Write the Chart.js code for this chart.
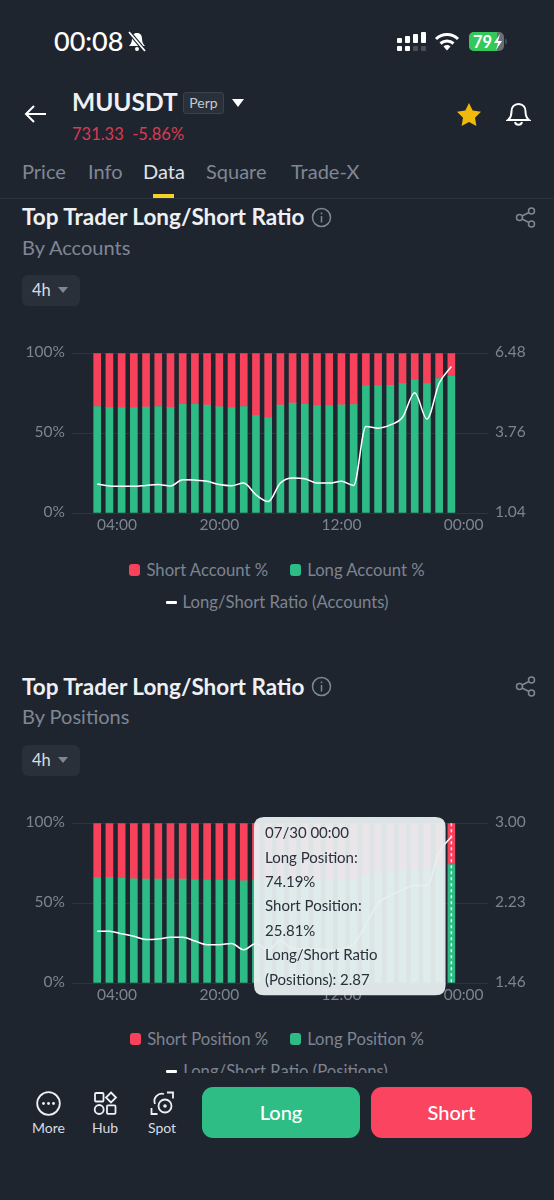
<!DOCTYPE html>
<html>
<head>
<meta charset="utf-8">
<title>MUUSDT Top Trader Long/Short Ratio</title>
<script src="https://cdn.jsdelivr.net/npm/chart.js@4"></script>
<style>
  html, body { margin: 0; padding: 0; background: #1f252f; }
  body { width: 554px; height: 1200px; position: relative; overflow: hidden; font-family: Lato, sans-serif; color: #fff; }
  .abs { position: absolute; white-space: nowrap; line-height: 1; }
  canvas { position: absolute; left: 0; }
  .tab { font-size: 20px; color: #7f8794; top: 161px; }
  .title { font-size: 22.5px; font-weight: 700; color: #eef0f3; left: 22px; }
  .sub { font-size: 20px; color: #7f8794; left: 22px; }
  .btn4h { left: 22px; width: 58px; height: 31px; background: #2a303a; border-radius: 6px; }
  .btn4h span { position: absolute; left: 10px; top: 7px; font-size: 16.5px; color: #d8dce2; }
  .btn4h i { position: absolute; left: 36px; top: 12px; width: 0; height: 0; border-left: 5.5px solid transparent; border-right: 5.5px solid transparent; border-top: 6px solid #7f8794; }
  .legend-row { position: absolute; left: 0; width: 554px; display: flex; justify-content: center; align-items: center; height: 20px; font-size: 16.7px; color: #7d8490; white-space: nowrap; }
  .legend-row div { display: flex; align-items: center; }
  .legend-row div + div { margin-left: 22px; }
  .legend-row b { display: block; width: 11px; height: 12px; border-radius: 3px; margin-right: 6px; }
  .legend-row b.dash { height: 3px; border-radius: 1px; }
  #nav { position: absolute; left: 0; top: 1073px; width: 554px; height: 127px; background: #1f252f; }
  .navlabel { font-size: 14px; color: #d8dce2; top: 1121px; transform: translateX(-50%); }
  .cta { top: 1087px; height: 51px; border-radius: 11px; color: #fff; font-size: 20px; font-weight: 500; text-align: center; line-height: 51px; }
</style>
</head>
<body>

<!-- status bar -->
<div class="abs" style="left:54px;top:27px;font-size:27px;font-weight:500;">00:08</div>
<svg class="abs" style="left:127px;top:31px" width="20" height="22" viewBox="0 0 20 22"><path d="M10 2c-3.500 0-5 2.700-5 5.500 0 3.500-1 5.500-3 7.500h16c-2-2-3-4-3-7.500C15 4.700 13.500 2 10 2z" fill="#fff"/><circle cx="10" cy="18" r="2" fill="#fff"/><path d="M2 1l16 19" stroke="#1f252f" stroke-width="4"/><path d="M2 1l16 19" stroke="#fff" stroke-width="1.800"/></svg>
<svg class="abs" style="left:397px;top:31px" width="30" height="21" viewBox="0 0 30 21"><g fill="#fff"><rect x="0" y="7" width="5" height="5" rx="1"/><rect x="0" y="15" width="5" height="5" rx="1"/><rect x="8" y="5" width="5" height="7" rx="1"/><rect x="8" y="15" width="5" height="5" rx="1"/><rect x="16" y="3" width="5" height="9" rx="1"/><rect x="24" y="1" width="5" height="11" rx="1"/></g><g fill="#4a4f58"><rect x="16" y="15" width="5" height="5" rx="1"/><rect x="24" y="15" width="5" height="5" rx="1"/></g></svg>
<svg class="abs" style="left:434px;top:32px" width="26" height="20" viewBox="0 0 26 20"><g fill="none" stroke="#fff" stroke-width="3"><path d="M2 7a16 16 0 0 1 22 0"/><path d="M6.500 11.500a10 10 0 0 1 13 0"/></g><path d="M9.500 14.500a5.500 5.500 0 0 1 7 0L13 18.500z" fill="#fff"/></svg>
<svg class="abs" style="left:469px;top:32px" width="38" height="19" viewBox="0 0 38 19"><rect x="0" y="0" width="35" height="19" rx="5" fill="#6b6e74"/><path d="M5 0h23v19H5a5 5 0 0 1-5-5V5a5 5 0 0 1 5-5z" fill="#34c759"/><path d="M36 6.500v6a3 3 0 0 0 2-3 3 3 0 0 0-2-3z" fill="#4a4f58"/><text x="4" y="15.500" font-family="Lato" font-size="16.500" font-weight="700" fill="#fff">79</text><path d="M31 2l-6 9h4l-2 7 6-9h-4z" fill="#fff"/></svg>

<!-- symbol header -->
<svg class="abs" style="left:24px;top:104px" width="23" height="20" viewBox="0 0 23 20"><path d="M22 10H2M10 2l-8 8 8 8" fill="none" stroke="#fff" stroke-width="2"/></svg>
<div class="abs" style="left:72px;top:90px;font-size:24.500px;font-weight:700;color:#eef0f3;">MUUSDT</div>
<div class="abs" style="left:183px;top:92px;width:41px;height:22px;background:#2a303a;border:1px solid #3a414c;border-radius:3px;box-sizing:border-box;font-size:14px;color:#c4c9d1;text-align:center;line-height:20px;">Perp</div>
<div class="abs" style="left:232px;top:99px;width:0;height:0;border-left:6.500px solid transparent;border-right:6.500px solid transparent;border-top:8px solid #fff;"></div>
<div class="abs" style="left:72px;top:126px;font-size:16.500px;color:#d83b53;">731.33&nbsp; -5.86%</div>
<svg class="abs" style="left:456px;top:102px" width="26" height="25" viewBox="0 0 26 25"><path d="M13 1l3.700 7.600 8.300 1.200-6 5.900 1.400 8.300L13 20.100l-7.400 3.900L7 15.700 1 9.800l8.300-1.200z" fill="#f0b90b"/></svg>
<svg class="abs" style="left:506px;top:102px" width="25" height="25" viewBox="0 0 25 25"><path d="M12.500 2c-4.500 0-7 3.300-7 7.500 0 4.200-1 6.500-3.500 8.500h21c-2.500-2-3.500-4.300-3.500-8.500 0-4.200-2.500-7.500-7-7.500zM9 20a3.600 3.600 0 0 0 7 0" fill="none" stroke="#fff" stroke-width="2"/></svg>

<!-- tabs -->
<div class="abs tab" style="left:22px">Price</div>
<div class="abs tab" style="left:88px">Info</div>
<div class="abs tab" style="left:143px;color:#dfe2e7">Data</div>
<div class="abs tab" style="left:206px">Square</div>
<div class="abs tab" style="left:291px">Trade-X</div>
<div class="abs" style="left:153px;top:194px;width:21px;height:4px;background:#f5cf2a;"></div>
<div class="abs" style="left:0;top:198px;width:554px;height:1px;background:#2c323c;"></div>

<!-- section 1 -->
<div class="abs title" style="top:206px">Top Trader Long/Short Ratio</div>
<svg class="abs" style="left:311px;top:207px" width="21" height="21" viewBox="0 0 21 21"><circle cx="10.500" cy="10.500" r="9" fill="none" stroke="#7f8794" stroke-width="1.500"/><path d="M10.500 9v6.500M10.500 5.500v1.800" stroke="#7f8794" stroke-width="1.500"/></svg>
<svg class="abs" style="left:515px;top:207px" width="21" height="21" viewBox="0 0 21 21"><g fill="none" stroke="#7f8794" stroke-width="1.500"><circle cx="4.500" cy="10.500" r="3"/><circle cx="16.500" cy="4" r="3"/><circle cx="16.500" cy="17" r="3"/><path d="M7 9l7-3.500M7 12l7 3.500"/></g></svg>
<div class="abs sub" style="top:237px">By Accounts</div>
<div class="abs btn4h" style="top:275px"><span>4h</span><i></i></div>
<canvas id="chart-accounts" style="top:337px"></canvas>
<div class="legend-row" id="legend-accounts-1" style="top:560px"></div>
<div class="legend-row" id="legend-accounts-2" style="top:592px"></div>

<!-- section 2 -->
<div class="abs title" style="top:676px">Top Trader Long/Short Ratio</div>
<svg class="abs" style="left:311px;top:676px" width="21" height="21" viewBox="0 0 21 21"><circle cx="10.500" cy="10.500" r="9" fill="none" stroke="#7f8794" stroke-width="1.500"/><path d="M10.500 9v6.500M10.500 5.500v1.800" stroke="#7f8794" stroke-width="1.500"/></svg>
<svg class="abs" style="left:515px;top:676px" width="21" height="21" viewBox="0 0 21 21"><g fill="none" stroke="#7f8794" stroke-width="1.500"><circle cx="4.500" cy="10.500" r="3"/><circle cx="16.500" cy="4" r="3"/><circle cx="16.500" cy="17" r="3"/><path d="M7 9l7-3.500M7 12l7 3.500"/></g></svg>
<div class="abs sub" style="top:706px">By Positions</div>
<div class="abs btn4h" style="top:745px"><span>4h</span><i></i></div>
<canvas id="chart-positions" style="top:807px"></canvas>
<div class="legend-row" id="legend-positions-1" style="top:1029px"></div>
<div class="legend-row" id="legend-positions-2" style="top:1061px"></div>

<!-- bottom bar -->
<div id="nav"></div>
<svg class="abs" style="left:36px;top:1091px" width="25" height="25" viewBox="0 0 25 25"><circle cx="12.500" cy="12.500" r="11.300" fill="none" stroke="#eef0f3" stroke-width="1.800"/><g fill="#eef0f3"><circle cx="7.500" cy="12.500" r="1.400"/><circle cx="12.500" cy="12.500" r="1.400"/><circle cx="17.500" cy="12.500" r="1.400"/></g></svg>
<svg class="abs" style="left:93px;top:1091px" width="25" height="25" viewBox="0 0 25 25"><g fill="none" stroke="#eef0f3" stroke-width="1.800"><rect x="2" y="2" width="8.500" height="8.500" rx="1"/><path d="M18 1.500l5 5-5 5-5-5z"/><circle cx="6.200" cy="18.500" r="4.500"/><rect x="14" y="14.300" width="8.500" height="8.500" rx="1"/></g></svg>
<svg class="abs" style="left:150px;top:1091px" width="25" height="25" viewBox="0 0 25 25"><g fill="none" stroke="#eef0f3" stroke-width="1.800"><path d="M17 1.500h6v6M1.500 17v6h6"/><path d="M5 13a7.500 7.500 0 0 1 9-10"/><circle cx="15" cy="15" r="6.500"/></g><circle cx="15" cy="15" r="1.800" fill="#eef0f3"/></svg>
<div class="abs navlabel" style="left:48.500px">More</div>
<div class="abs navlabel" style="left:105px">Hub</div>
<div class="abs navlabel" style="left:162px">Spot</div>
<div class="abs cta" style="left:202px;width:158px;background:#2ebd85;">Long</div>
<div class="abs cta" style="left:371px;width:161px;background:#fb4560;">Short</div>

<script>
// categories: 30 four-hour candles, only a few carry a label
var xTickLabels = ['04:00', '20:00', '12:00', '00:00'];
var barIndex = [0, 1, 2, 3, 4, 5, 6, 7, 8, 9, 10, 11, 12, 13, 14, 15, 16, 17, 18, 19, 20, 21, 22, 23, 24, 25, 26, 27, 28, 29];

// By Accounts
var longAccount = [66.7, 66, 65.8, 65.8, 66.3, 66.7, 66, 68.1, 68.1, 67.5, 66.5, 65.8, 66.7, 61, 59.6, 67.5, 68.8, 68.1, 67.1, 67.1, 67.7, 67.9, 79.4, 79.6, 80, 81, 83.3, 81, 84.2, 85.6];
var shortAccount = [33.3, 34, 34.2, 34.2, 33.7, 33.3, 34, 31.9, 31.9, 32.5, 33.5, 34.2, 33.3, 39, 40.4, 32.5, 31.2, 31.9, 32.9, 32.9, 32.3, 32.1, 20.6, 20.4, 20, 19, 16.7, 19, 15.8, 14.4];
var ratioAccount = [2.03, 1.96, 1.95, 1.95, 1.98, 2.01, 1.96, 2.17, 2.16, 2.12, 2.01, 1.97, 2.06, 1.66, 1.43, 2.06, 2.23, 2.21, 2.06, 2.06, 2.12, 1.98, 3.99, 3.93, 4.04, 4.30, 5.14, 4.24, 5.46, 6.03];
var ratioTicksAccount = [1.04, 3.76, 6.48];

// By Positions
var longPosition = [65.8, 66, 65.6, 65.2, 65, 65, 65.2, 65, 64.8, 64.4, 64.4, 64.4, 64, 64.8, 64, 65.2, 64.2, 64.2, 64.2, 64, 64.2, 64.8, 66.9, 69, 69.7, 70.2, 70.6, 70.6, 73.1, 74.19];
var shortPosition = [34.2, 34, 34.4, 34.8, 35, 35, 34.8, 35, 35.2, 35.6, 35.6, 35.6, 36, 35.2, 36, 34.8, 35.8, 35.8, 35.8, 36, 35.8, 35.2, 33.1, 31, 30.3, 29.8, 29.4, 29.4, 26.9, 25.81];
var ratioPosition = [1.96, 1.96, 1.935, 1.91, 1.88, 1.885, 1.90, 1.90, 1.865, 1.83, 1.83, 1.84, 1.78, 1.84, 1.775, 1.87, 1.79, 1.79, 1.79, 1.775, 1.79, 1.84, 2.02, 2.23, 2.30, 2.36, 2.40, 2.40, 2.72, 2.87];
var ratioTicksPosition = [1.46, 2.23, 3.00];

var percentTicks = [0, 50, 100];
var tooltipTitle = '07/30 00:00';

// layout of the axes, in bar units so the bars stay on the library's scale
var xMin = -2.064;
var xMax = 32;
var xTickPositions = [1.62, 10, 20, 30];

var RED = '#f8425c';
var GREEN = '#2dbc85';
var AXIS_TEXT = '#7d8490';
var GRID = '#2e343e';
var FONT = { family: 'Lato', size: 15.5 };

function toPoints(values) {
  return values.map(function (v, i) { return { x: barIndex[i], y: v }; });
}

// tooltip is pinned in place like on the screenshot
Chart.Tooltip.positioners.pinned = function () {
  return { x: 264, y: 10, xAlign: 'left', yAlign: 'top' };
};

// dashed crosshair on the hovered bar
var crosshair = {
  id: 'crosshair',
  afterDatasetsDraw: function (chart) {
    var active = chart.tooltip.getActiveElements();
    if (!active.length) return;
    var ctx = chart.ctx;
    ctx.save();
    ctx.strokeStyle = 'rgba(255,255,255,0.9)';
    ctx.lineWidth = 1.5;
    ctx.setLineDash([3, 3]);
    ctx.beginPath();
    ctx.moveTo(active[0].element.x, chart.chartArea.top);
    ctx.lineTo(active[0].element.x, chart.chartArea.bottom);
    ctx.stroke();
    ctx.restore();
  }
};

function makeChart(id, names, shortVals, longVals, ratioVals, ratioTicks, tipLabels) {
  var canvas = document.getElementById(id);
  canvas.width = 554;
  canvas.height = 203;
  canvas.style.width = '554px';
  canvas.style.height = '203px';
  return new Chart(canvas, {
    type: 'bar',
    data: {
      datasets: [
        { label: names[0], data: toPoints(shortVals), backgroundColor: RED, barThickness: 7, order: 3, yAxisID: 'y' },
        { label: names[1], data: toPoints(longVals), backgroundColor: GREEN, barThickness: 7, order: 2, yAxisID: 'y' },
        { type: 'line', label: names[2], data: toPoints(ratioVals), borderColor: '#ffffff', backgroundColor: '#ffffff', borderWidth: 1.5, pointRadius: 0, cubicInterpolationMode: 'monotone', order: 0, yAxisID: 'yRatio' }
      ]
    },
    plugins: [crosshair],
    options: {
      responsive: false,
      animation: false,
      events: [],
      layout: { autoPadding: false, padding: { top: 10, bottom: 0, left: 0, right: 0 } },
      scales: {
        x: {
          type: 'linear',
          offset: false,
          min: xMin,
          max: xMax,
          stacked: true,
          grid: { display: false, drawTicks: false },
          border: { display: false },
          afterBuildTicks: function (axis) {
            axis.ticks = xTickPositions.map(function (p) { return { value: p }; });
          },
          afterFit: function (axis) { axis.height = 27; },
          ticks: {
            autoSkip: false,
            maxRotation: 0,
            padding: 3,
            color: AXIS_TEXT,
            font: FONT,
            callback: function (v, i) { return xTickLabels[i]; }
          }
        },
        y: {
          stacked: true,
          min: 0,
          max: 100,
          grid: { color: GRID, drawTicks: false, lineWidth: 1 },
          border: { display: false },
          afterBuildTicks: function (axis) {
            axis.ticks = percentTicks.map(function (p) { return { value: p }; });
          },
          afterFit: function (axis) { axis.width = 72; },
          ticks: {
            padding: 7,
            labelOffset: -1.5,
            color: AXIS_TEXT,
            font: FONT,
            callback: function (v) { return v + '%'; }
          }
        },
        yRatio: {
          position: 'right',
          min: ratioTicks[0],
          max: ratioTicks[2],
          grid: { display: false, drawTicks: false },
          border: { display: false },
          afterBuildTicks: function (axis) {
            axis.ticks = ratioTicks.map(function (p) { return { value: p }; });
          },
          afterFit: function (axis) { axis.width = 66; },
          ticks: {
            padding: 7,
            labelOffset: -1.5,
            color: AXIS_TEXT,
            font: FONT,
            callback: function (v) { return v.toFixed(2); }
          }
        }
      },
      plugins: {
        legend: { display: false },
        tooltip: {
          enabled: !!tipLabels,
          animation: false,
          position: 'pinned',
          backgroundColor: 'rgba(232,238,240,0.95)',
          titleColor: '#2b303a',
          bodyColor: '#2b303a',
          titleFont: { family: 'Lato', size: 15, weight: 'normal', lineHeight: 1.63 },
          bodyFont: { family: 'Lato', size: 15, lineHeight: 1.63 },
          titleMarginBottom: 0,
          titleSpacing: 0,
          bodySpacing: 0,
          displayColors: false,
          caretSize: 0,
          caretPadding: 0,
          cornerRadius: 10,
          padding: { top: 4, bottom: 3, left: 11, right: 68 },
          callbacks: {
            title: function () { return tooltipTitle; },
            label: function (item) {
              return tipLabels ? tipLabels[item.datasetIndex](item.raw.y) : '';
            }
          }
        }
      }
    }
  });
}

// legend is laid out in two rows, like the app does it
function fillLegend(chart, rowA, rowB) {
  var items = Chart.defaults.plugins.legend.labels.generateLabels(chart);
  items.sort(function (a, b) { return a.datasetIndex - b.datasetIndex; });
  items.forEach(function (item, i) {
    var el = document.createElement('div');
    var box = document.createElement('b');
    box.style.background = chart.data.datasets[item.datasetIndex].backgroundColor;
    if (i === 2) box.className = 'dash';
    el.appendChild(box);
    el.appendChild(document.createTextNode(item.text));
    document.getElementById(i === 2 ? rowB : rowA).appendChild(el);
  });
}

var accountsChart = makeChart('chart-accounts',
  ['Short Account %', 'Long Account %', 'Long/Short Ratio (Accounts)'],
  shortAccount, longAccount, ratioAccount, ratioTicksAccount, null);
fillLegend(accountsChart, 'legend-accounts-1', 'legend-accounts-2');

var positionsChart = makeChart('chart-positions',
  ['Short Position %', 'Long Position %', 'Long/Short Ratio (Positions)'],
  shortPosition, longPosition, ratioPosition, ratioTicksPosition,
  [
    function (v) { return ['Short Position:', v.toFixed(2) + '%']; },
    function (v) { return ['Long Position:', v.toFixed(2) + '%']; },
    function (v) { return ['Long/Short Ratio', '(Positions): ' + v.toFixed(2)]; }
  ]);
fillLegend(positionsChart, 'legend-positions-1', 'legend-positions-2');

// open the tooltip on the last bar
var last = barIndex.length - 1;
positionsChart.tooltip.setActiveElements([
  { datasetIndex: 1, index: last },
  { datasetIndex: 0, index: last },
  { datasetIndex: 2, index: last }
], { x: 451, y: 100 });
positionsChart.draw();
</script>
</body>
</html>
